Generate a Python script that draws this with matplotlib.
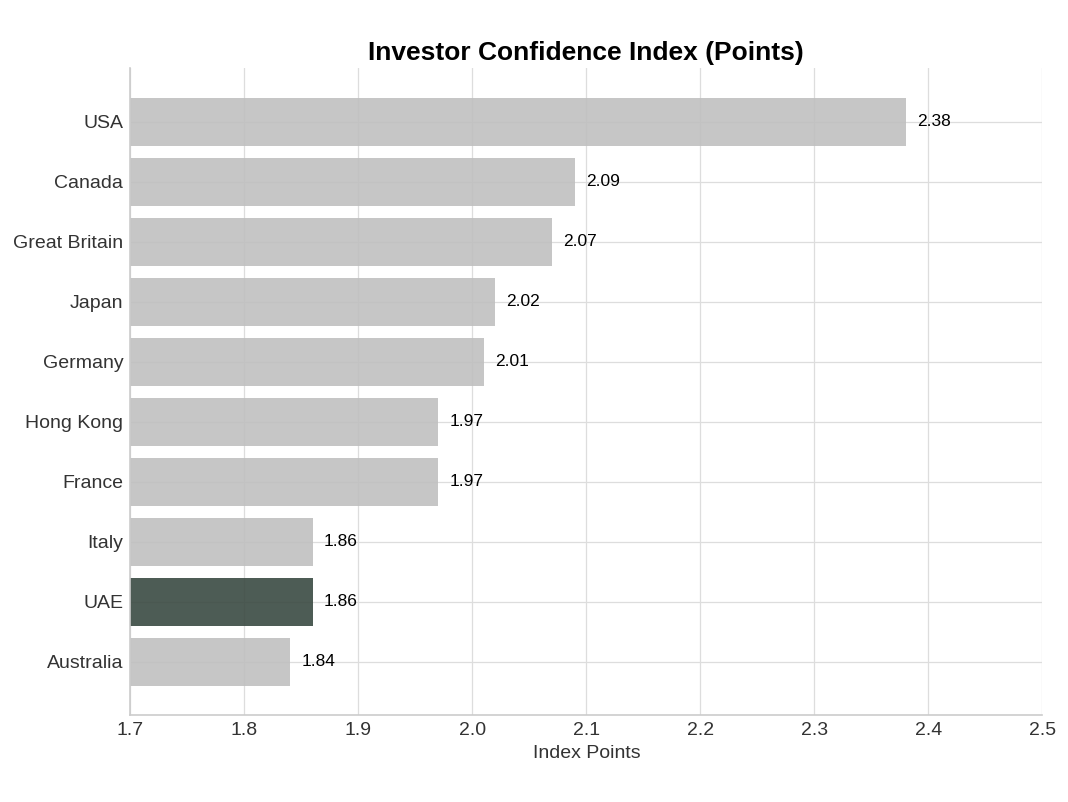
import matplotlib
matplotlib.use('Agg')
import matplotlib.pyplot as plt

countries = ["USA", "Canada", "Great Britain", "Japan", "Germany",
             "Hong Kong", "France", "Italy", "UAE", "Australia"]
scores = [2.38, 2.09, 2.07, 2.02, 2.01, 1.97, 1.97, 1.86, 1.86, 1.84]
highlight = "UAE"

plt.rcParams['font.family'] = ['Liberation Sans', 'DejaVu Sans']

fig, ax = plt.subplots(figsize=(10.68, 8.02), dpi=100)
fig.subplots_adjust(left=0.122, right=0.976, top=0.915, bottom=0.108)

colors = ['#3a4a42' if c == highlight else '#c0c0c0' for c in countries]
ypos = list(range(len(countries)))[::-1]
bars = ax.barh(ypos, scores, height=0.8, color=colors, alpha=0.9, zorder=2)

for b, v in zip(bars, scores):
    ax.text(v + 0.01, b.get_y() + b.get_height() / 2, f"{v:.2f}",
            va='center', ha='left', fontsize=12.5, color='black')

ax.set_yticks(ypos)
ax.set_yticklabels(countries)
ax.set_xlim(1.7, 2.5)
ax.set_xticks([1.7, 1.8, 1.9, 2.0, 2.1, 2.2, 2.3, 2.4, 2.5])
ax.set_xlabel("Index Points", fontsize=14, color='#333333', labelpad=4)
ax.set_title("Investor Confidence Index (Points)", fontsize=19,
             fontweight='bold', pad=6)

ax.grid(True, color='#dddddd', linewidth=0.9)
ax.set_axisbelow(True)
ax.tick_params(length=0, labelsize=14, labelcolor='#333333', pad=5)
for s in ['top', 'right']:
    ax.spines[s].set_visible(False)
for s in ['left', 'bottom']:
    ax.spines[s].set_color('#cccccc')
    ax.spines[s].set_linewidth(1.2)

plt.savefig("out.png", dpi=100)
